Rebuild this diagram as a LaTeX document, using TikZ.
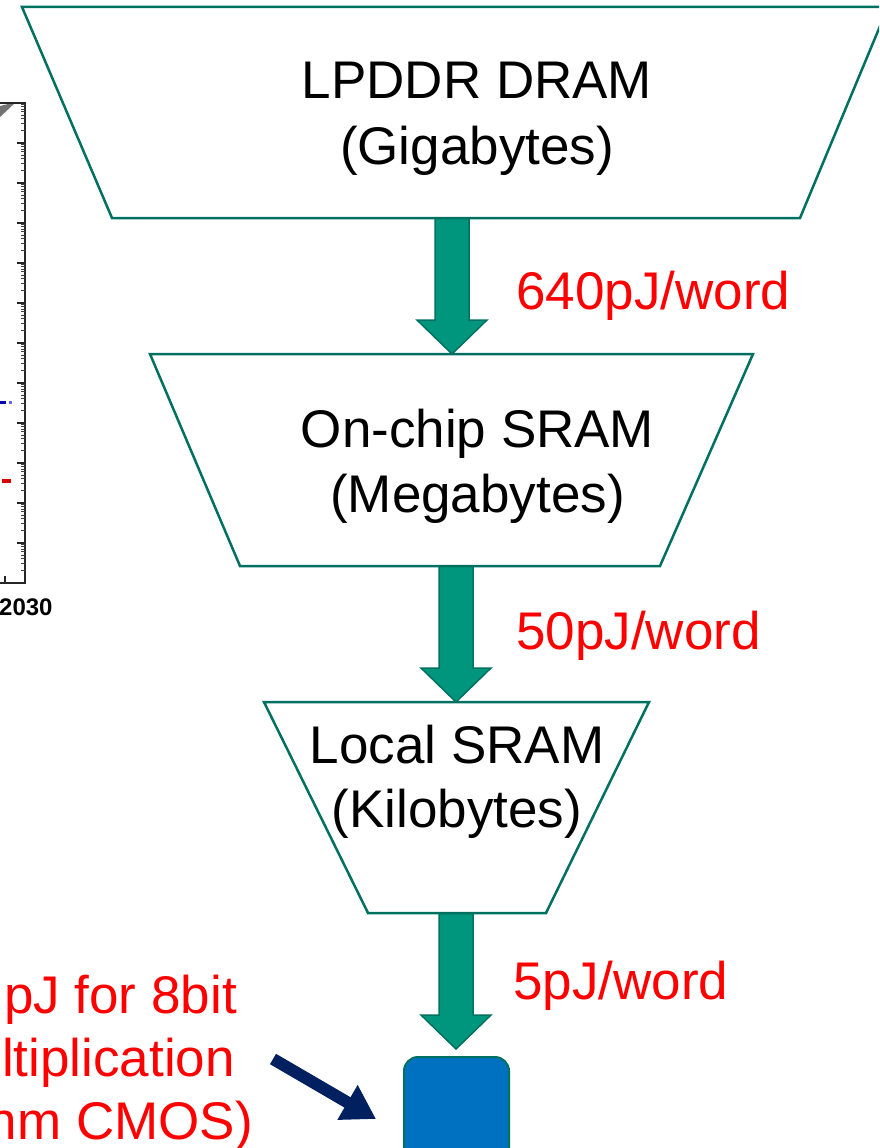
\documentclass[tikz,border=0pt]{standalone}
\usepackage{fontspec}
\setmainfont{Liberation Sans}
\usetikzlibrary{arrows.meta}
\definecolor{tealline}{RGB}{0,112,96}
\definecolor{tealfill}{RGB}{0,150,126}
\definecolor{boxblue}{RGB}{0,112,192}
\definecolor{navyarrow}{RGB}{0,32,96}
\definecolor{redtxt}{RGB}{255,0,0}
\newcommand\blockarrow[4]{%
  \draw[flow] (#1-17,#2) -- (#1+17,#2) -- (#1+17,#3) -- (#1+35,#3) -- (#1,#4)
    -- (#1-35,#3) -- (#1-17,#3) -- cycle;}
\begin{document}
\begin{tikzpicture}[x=1pt,y=-1pt,
  tier/.style={draw=tealline,line width=2.5pt,fill=white,line join=miter},
  flow/.style={draw=tealline,line width=1.5pt,fill=tealfill,line join=miter},
  big/.style={font=\fontsize{53}{63}\selectfont,inner sep=0pt,anchor=base},
  cost/.style={font=\fontsize{53}{63}\selectfont,inner sep=0pt,text=redtxt,anchor=base west},
  note/.style={font=\fontsize{53}{63}\selectfont,inner sep=0pt,text=redtxt,anchor=base east},
  axisline/.style={line width=2.5pt,black!85},
  majortick/.style={line width=1.4pt,black!85},
  minortick/.style={line width=1pt,black!75}]
\useasboundingbox (0,0) rectangle (879,1148);
\clip (0,0) rectangle (879,1148);

% ---- fragment of a plot at the left ----
\fill[black!55] (0,106) -- (16,102) -- (0,117) -- cycle;
\draw[axisline] (0,103) -- (25,103) -- (25,583) -- (0,583);
\foreach \i in {0,...,11}{
  \pgfmathsetmacro\yy{583-40*\i}
  \draw[majortick] (25,\yy) -- (17,\yy);
  \foreach \k in {2,...,9}{
    \pgfmathsetmacro\ym{\yy-40*log10(\k)}
    \draw[minortick] (25,\ym) -- (20.5,\ym);
  }
}
\draw[majortick] (5,583) -- (5,576);
\draw[line width=3pt,blue!70!black] (0,402) -- (6,402);
\draw[line width=3pt,blue!60,dotted] (9,402) -- (14,402);
\draw[line width=4pt,red!85!black] (2,481) -- (11,481);
\node[font=\bfseries\fontsize{24}{24}\selectfont,anchor=base west,inner sep=0pt] (yr) at (-1,615) {2030};

% ---- block arrows ----
\blockarrow{452}{218}{320}{354}
\blockarrow{456}{566}{668}{702}
\blockarrow{456}{913}{1015}{1049}

% ---- memory tiers ----
\draw[tier] (22,7) -- (888,7) -- (800,218) -- (112,218) -- cycle;
\draw[tier] (150,354) -- (753,354) -- (660,566) -- (240,566) -- cycle;
\draw[tier] (264,702) -- (649,702) -- (546,913) -- (368,913) -- cycle;

\node[big] (dramA) at (477,99) {LPDDR DRAM};
\node[big] (dramB) at (477,164) {(Gigabytes)};
\node[big] (sramA) at (477.5,447) {On-chip SRAM};
\node[big] (sramB) at (477.5,512) {(Megabytes)};
\node[big] (locA) at (457,763) {Local SRAM};
\node[big] (locB) at (457,827) {(Kilobytes)};

% ---- energy labels ----
\node[cost] (c1) at (516,309) {640pJ/word};
\node[cost] (c2) at (516,649) {50pJ/word};
\node[cost] (c3) at (513,999) {5pJ/word};

% ---- MAC unit ----
\node[draw=tealline,line width=2pt,fill=boxblue,rounded corners=14pt,
      minimum width=105pt,minimum height=110pt,anchor=north] (mac) at (456.5,1056) {};

% ---- left note ----
\node[note] (n1) at (237,1013) {pJ for 8bit};
\node[note] (n2) at (235,1076) {ltiplication};
\node[note] (n3) at (253,1139) {nm CMOS)};
\coordinate (nstart) at (273,1059);
\coordinate (ntip) at (376,1119);
\draw[navyarrow,line width=12pt,-{Triangle[length=33pt,width=38pt]}] (nstart) -- (ntip);
\end{tikzpicture}
\end{document}
